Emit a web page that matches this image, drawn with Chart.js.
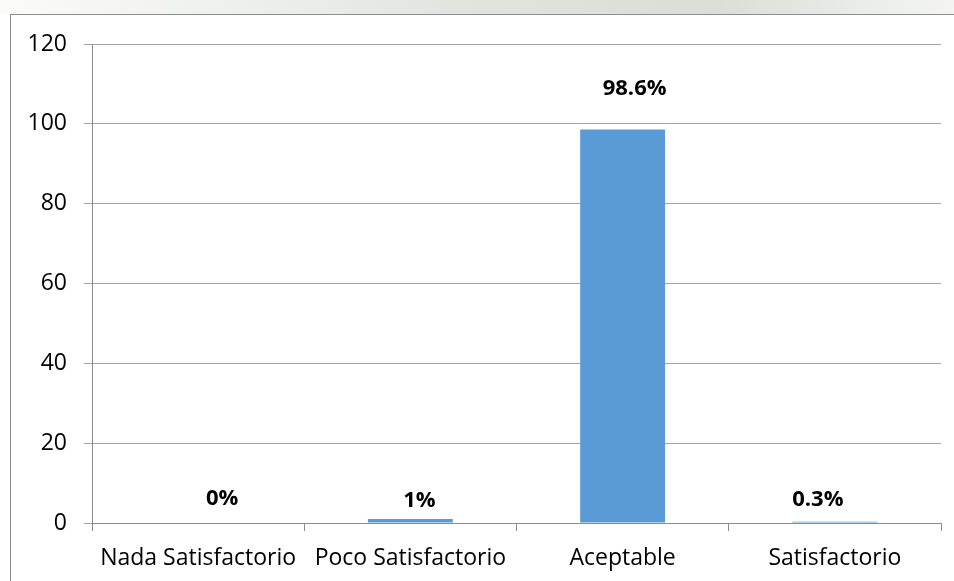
<!DOCTYPE html>
<html lang="es">
<head>
<meta charset="utf-8">
<title>Nivel de satisfacción</title>
<script src="https://cdn.jsdelivr.net/npm/chart.js@4.4.1/dist/chart.umd.min.js"></script>
<style>
  html, body { margin: 0; padding: 0; background: #fff; }
  #wrap { position: relative; width: 954px; height: 581px; overflow: hidden; }
  /* franja superior tenue del fondo de la página */
  #banda {
    position: absolute; left: 0; top: 0; width: 954px; height: 14px;
    background: linear-gradient(90deg, #fbfbfa 0%, #eef0ed 25%, #dfe4dd 50%, #d9dfd6 75%, #f4f5f3 100%);
  }
  #marco {
    position: absolute; left: 10px; top: 14px; right: 0; bottom: 0;
    border-left: 1px solid #8c8c8c; border-top: 1px solid #8c8c8c;
  }
  #grafico { position: absolute; left: 0; top: 0; }
</style>
</head>
<body>
<div id="wrap">
  <div id="banda"></div>
  <div id="marco"></div>
  <canvas id="grafico" width="954" height="581"></canvas>
</div>
<script>
// Categorías y porcentajes
const categorias = ['Nada Satisfactorio', 'Poco Satisfactorio', 'Aceptable', 'Satisfactorio'];
const porcentajes = [0, 1, 98.6, 0.3];
const ticksY = [0, 20, 40, 60, 80, 100, 120];

const fuente = "'Open Sans', 'DejaVu Sans', sans-serif";

/**
 * Dibuja la etiqueta de porcentaje encima de cada barra
 */
const etiquetasPlugin = {
  id: 'etiquetas',
  afterDatasetsDraw(chart, args, opts) {
    const ctx = chart.ctx;
    const meta = chart.getDatasetMeta(0);
    ctx.save();
    ctx.font = 'bold 22px ' + fuente;
    ctx.fillStyle = '#000';
    ctx.textAlign = 'center';
    ctx.textBaseline = 'middle';
    meta.data.forEach((barra, i) => {
      const v = chart.data.datasets[0].data[i];
      const dx = opts.dx[i] || 0;
      const dy = opts.dy[i] || 0;
      ctx.fillText(v + '%', barra.x + dx, barra.y + dy);
    });
    ctx.restore();
  }
};

new Chart(document.getElementById('grafico'), {
  type: 'bar',
  data: {
    labels: categorias,
    datasets: [{
      data: porcentajes,
      backgroundColor: '#5b9bd5',
      borderWidth: 0,
      barPercentage: 0.4,
      categoryPercentage: 1
    }]
  },
  options: {
    responsive: false,
    animation: false,
    layout: {
      padding: { left: 0, right: 13, top: 44, bottom: 0 }
    },
    scales: {
      x: {
        offset: true,
        afterFit(scale) { scale.height = 58; },
        border: { color: '#8c8c8c', width: 1 },
        grid: {
          offset: true,
          drawOnChartArea: false,
          tickLength: 8,
          color: '#8c8c8c'
        },
        ticks: {
          color: '#000',
          padding: 14,
          font: { family: fuente, size: 23 }
        }
      },
      y: {
        min: 0,
        max: 120,
        afterFit(scale) { scale.width = 92; },
        afterBuildTicks(scale) { scale.ticks = ticksY.map(v => ({ value: v })); },
        border: { color: '#8c8c8c', width: 1 },
        grid: {
          color: '#a6a6a6',
          tickLength: 8
        },
        ticks: {
          color: '#000',
          padding: 17,
          font: { family: fuente, size: 23 }
        }
      }
    },
    plugins: {
      legend: { display: false },
      tooltip: { enabled: false },
      etiquetas: {
        dx: [24, 9, 12, -17],
        dy: [-24, -18, -41, -22]
      }
    }
  },
  plugins: [etiquetasPlugin]
});
</script>
</body>
</html>
